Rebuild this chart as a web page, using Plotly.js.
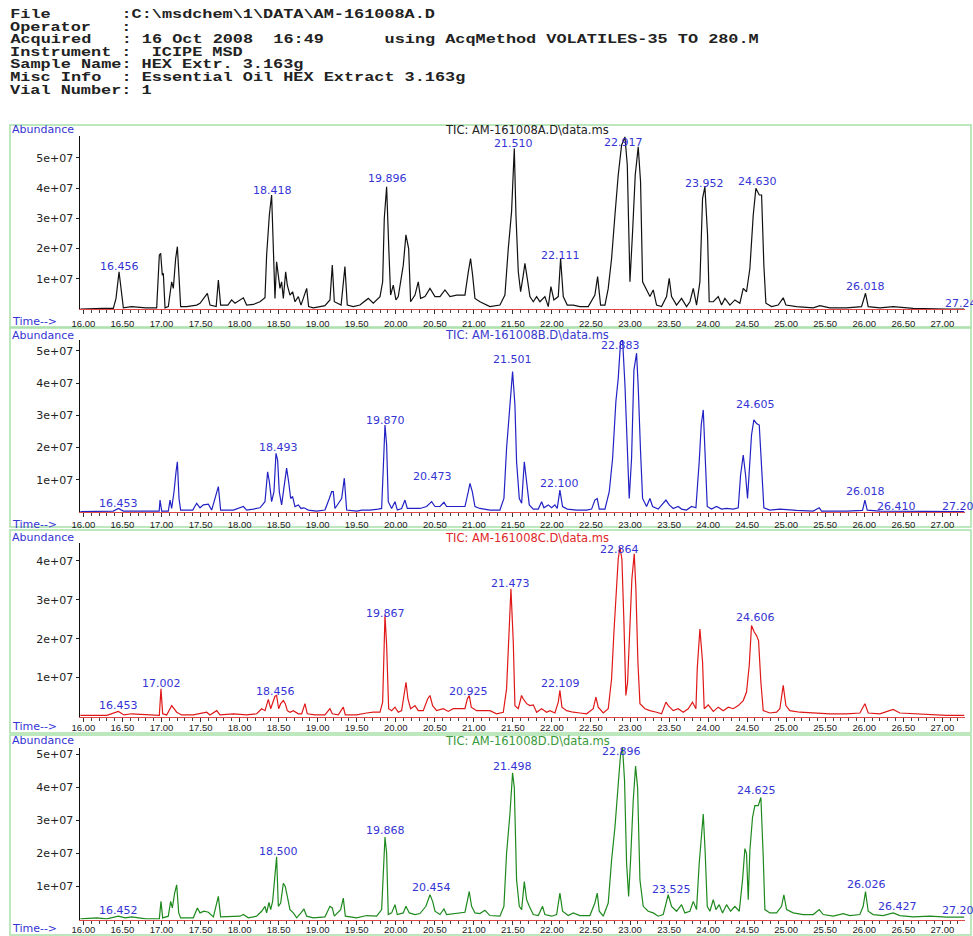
<!DOCTYPE html>
<html><head><meta charset="utf-8">
<script src="https://cdn.plot.ly/plotly-3.0.1.min.js"></script>
<style>html,body{margin:0;padding:0;background:#fff;}#chart{width:973px;height:936px;}</style>
</head><body><div id="chart"></div>
<script>
// ---------- Data (retention time in min, abundance in units of 1e7) ----------
const tA = [15.961,16.10,16.25,16.383,16.417,16.456,16.481,16.511,16.618,16.80,16.938,16.972,16.989,17.01,17.023,17.045,17.087,17.109,17.13,17.151,17.181,17.203,17.224,17.245,17.322,17.45,17.493,17.587,17.621,17.70,17.728,17.757,17.85,17.898,17.941,18.048,18.09,18.176,18.261,18.325,18.346,18.381,18.41,18.432,18.453,18.474,18.496,18.517,18.538,18.56,18.59,18.611,18.645,18.679,18.709,18.752,18.786,18.824,18.859,18.884,18.944,19.029,19.093,19.157,19.187,19.213,19.30,19.349,19.379,19.456,19.541,19.648,19.712,19.798,19.832,19.853,19.883,19.909,19.934,19.968,20.002,20.032,20.096,20.13,20.165,20.19,20.246,20.288,20.318,20.374,20.438,20.502,20.566,20.63,20.694,20.779,20.886,20.929,20.958,20.984,21.014,21.078,21.206,21.334,21.398,21.441,21.483,21.518,21.539,21.569,21.599,21.633,21.654,21.684,21.718,21.761,21.804,21.846,21.91,21.953,21.987,22.025,22.081,22.111,22.145,22.196,22.273,22.358,22.465,22.55,22.585,22.623,22.679,22.721,22.764,22.807,22.849,22.892,22.935,22.965,22.999,23.033,23.067,23.105,23.135,23.161,23.204,23.255,23.297,23.34,23.404,23.468,23.502,23.532,23.596,23.66,23.724,23.767,23.81,23.852,23.895,23.929,23.959,23.993,24.014,24.066,24.13,24.172,24.215,24.279,24.343,24.407,24.45,24.492,24.535,24.578,24.612,24.655,24.685,24.714,24.74,24.813,24.898,24.962,24.996,25.133,25.346,25.431,25.559,25.773,25.965,26.016,26.05,26.2,26.37,26.626,27.053,27.28];
const yA = [0.0,0.02,0.02,0.02,0.35,1.23,0.68,0.04,0.08,0.04,0.04,1.78,1.84,1.12,1.18,0.04,0.08,0.57,0.90,0.68,1.67,2.06,0.90,0.08,0.08,0.13,0.19,0.52,0.13,0.08,0.96,0.13,0.13,0.30,0.19,0.37,0.13,0.15,0.24,0.37,1.78,3.11,3.77,1.78,0.35,1.56,1.12,0.68,0.90,0.35,1.23,0.79,0.46,0.57,0.24,0.41,0.13,0.41,0.68,0.08,0.04,0.08,0.11,0.30,1.45,0.24,0.13,1.40,0.13,0.08,0.13,0.35,0.19,0.41,0.90,3.0,4.04,2.12,0.46,0.79,0.30,0.41,1.45,2.45,2.0,0.24,0.46,0.90,0.35,0.41,0.68,0.41,0.41,0.63,0.41,0.46,0.46,1.23,1.67,1.12,0.35,0.24,0.08,0.13,0.46,2.0,3.22,5.31,3.11,1.23,0.57,1.12,1.51,1.01,0.41,0.24,0.41,0.24,0.41,0.08,0.74,0.30,0.41,1.67,0.41,0.13,0.13,0.08,0.08,0.46,1.07,0.13,0.13,0.68,1.67,3.11,4.43,5.42,5.69,4.76,0.90,2.56,4.43,5.36,4.21,0.90,0.68,0.41,0.63,0.13,0.08,0.41,1.01,0.41,0.13,0.35,0.08,0.24,0.68,0.13,0.90,3.66,4.04,2.45,0.24,0.24,0.41,0.13,0.35,0.13,0.30,0.19,0.68,0.57,1.34,3.11,3.99,3.77,3.77,1.45,0.19,0.08,0.13,0.37,0.13,0.08,0.04,0.11,0.04,0.04,0.08,0.52,0.08,0.04,0.08,0.02,0.0,0.0];

const tB = [15.961,16.25,16.383,16.447,16.511,16.80,16.97,16.981,17.002,17.087,17.109,17.13,17.16,17.186,17.203,17.224,17.245,17.40,17.45,17.493,17.536,17.60,17.642,17.728,17.757,17.834,17.92,18.048,18.09,18.176,18.261,18.325,18.359,18.381,18.41,18.44,18.466,18.487,18.508,18.538,18.568,18.602,18.628,18.654,18.679,18.709,18.752,18.786,18.824,18.88,18.987,19.093,19.149,19.179,19.20,19.221,19.307,19.341,19.371,19.50,19.563,19.67,19.776,19.819,19.84,19.862,19.883,19.904,19.947,19.99,20.02,20.075,20.118,20.148,20.224,20.31,20.395,20.459,20.502,20.566,20.617,20.651,20.779,20.886,20.929,20.95,20.98,21.014,21.078,21.206,21.334,21.385,21.419,21.462,21.496,21.526,21.547,21.582,21.612,21.646,21.676,21.71,21.761,21.825,21.868,21.897,21.953,21.996,22.038,22.068,22.102,22.136,22.196,22.316,22.444,22.508,22.55,22.58,22.606,22.679,22.734,22.777,22.819,22.849,22.879,22.905,22.935,22.964,22.99,23.02,23.05,23.084,23.105,23.135,23.161,23.212,23.255,23.289,23.361,23.46,23.502,23.553,23.617,23.66,23.724,23.788,23.844,23.886,23.912,23.938,23.963,23.989,24.044,24.108,24.172,24.236,24.322,24.386,24.416,24.45,24.48,24.505,24.527,24.556,24.586,24.62,24.655,24.684,24.714,24.791,24.919,25.133,25.346,25.423,25.453,25.773,25.978,26.008,26.038,26.2,26.626,27.053,27.28];
const yB = [0.01,0.01,0.03,0.11,0.03,0.03,0.03,0.37,0.03,0.03,0.37,0.11,0.63,1.25,1.56,0.42,0.06,0.06,0.27,0.13,0.22,0.24,0.06,0.79,0.06,0.06,0.06,0.17,0.06,0.09,0.13,0.32,1.25,0.94,0.32,0.63,1.82,1.61,0.63,0.22,0.73,1.36,0.94,0.42,0.48,0.17,0.22,0.11,0.13,0.06,0.03,0.06,0.42,0.63,0.63,0.11,0.42,1.05,0.06,0.03,0.06,0.06,0.09,0.11,1.36,2.70,2.08,0.32,0.11,0.32,0.06,0.11,0.37,0.11,0.11,0.11,0.17,0.32,0.17,0.17,0.30,0.17,0.17,0.17,0.63,0.89,0.63,0.17,0.11,0.06,0.06,0.42,1.98,3.43,4.36,3.32,1.56,0.42,0.27,1.56,0.84,0.22,0.09,0.09,0.32,0.13,0.22,0.13,0.22,0.11,0.68,0.17,0.09,0.06,0.06,0.09,0.37,0.42,0.09,0.09,0.63,1.67,3.43,4.15,5.29,5.34,3.94,1.87,0.42,1.67,4.41,4.93,3.89,1.87,0.42,0.17,0.42,0.17,0.09,0.37,0.22,0.11,0.17,0.09,0.06,0.17,0.13,1.56,2.70,3.17,1.67,0.17,0.09,0.17,0.09,0.11,0.09,0.13,1.15,1.77,1.15,0.42,1.25,2.39,2.86,2.75,2.70,1.36,0.13,0.06,0.09,0.05,0.03,0.13,0.03,0.03,0.05,0.37,0.06,0.03,0.03,0.01,0.01];

const tC = [15.961,16.3,16.447,16.52,16.618,16.80,16.972,16.993,17.015,17.066,17.13,17.16,17.194,17.258,17.407,17.578,17.621,17.706,17.749,17.92,18.09,18.219,18.283,18.325,18.368,18.398,18.423,18.453,18.474,18.5,18.526,18.56,18.585,18.611,18.645,18.688,18.752,18.795,18.837,18.867,18.965,19.093,19.157,19.187,19.264,19.328,19.354,19.499,19.627,19.712,19.798,19.832,19.862,19.883,19.909,19.947,19.99,20.032,20.075,20.105,20.131,20.156,20.19,20.246,20.288,20.352,20.408,20.438,20.472,20.523,20.608,20.672,20.736,20.822,20.886,20.916,20.941,20.967,21.035,21.078,21.206,21.291,21.377,21.419,21.441,21.475,21.505,21.526,21.569,21.611,21.633,21.676,21.718,21.761,21.804,21.868,21.932,21.974,22.038,22.081,22.102,22.128,22.188,22.273,22.358,22.444,22.529,22.563,22.593,22.657,22.721,22.764,22.794,22.819,22.849,22.871,22.896,22.922,22.947,22.969,22.999,23.024,23.054,23.075,23.101,23.127,23.191,23.255,23.34,23.404,23.46,23.49,23.553,23.617,23.681,23.745,23.8,23.844,23.861,23.895,23.929,23.95,24.002,24.066,24.13,24.194,24.258,24.322,24.386,24.45,24.492,24.527,24.556,24.591,24.62,24.646,24.676,24.706,24.791,24.877,24.919,24.962,24.996,25.047,25.175,25.346,25.559,25.773,25.944,26.008,26.05,26.2,26.37,26.456,26.626,26.84,27.053,27.28];
const yC = [0.03,0.03,0.13,0.04,0.07,0.04,0.03,0.71,0.07,0.04,0.28,0.20,0.11,0.04,0.04,0.11,0.04,0.15,0.04,0.07,0.04,0.07,0.20,0.15,0.44,0.20,0.37,0.52,0.54,0.20,0.33,0.41,0.33,0.15,0.11,0.15,0.07,0.07,0.33,0.07,0.04,0.04,0.20,0.07,0.04,0.24,0.04,0.04,0.09,0.11,0.11,0.37,2.60,1.83,0.20,0.15,0.24,0.11,0.15,0.54,0.88,0.45,0.20,0.28,0.15,0.15,0.45,0.54,0.28,0.15,0.20,0.13,0.20,0.20,0.20,0.45,0.54,0.24,0.15,0.15,0.15,0.07,0.11,0.71,1.91,3.28,1.91,0.28,0.20,0.54,0.45,0.33,0.28,0.30,0.11,0.20,0.11,0.15,0.09,0.37,0.67,0.24,0.15,0.11,0.09,0.07,0.20,0.50,0.24,0.09,0.20,0.97,2.17,3.02,4.05,4.35,4.05,2.42,0.54,0.88,2.51,3.54,4.18,3.28,1.40,0.33,0.20,0.15,0.11,0.07,0.37,0.28,0.15,0.20,0.11,0.20,0.37,0.20,1.23,2.25,1.40,0.20,0.30,0.13,0.24,0.15,0.24,0.20,0.28,0.41,0.63,1.31,2.34,2.17,2.08,1.95,0.88,0.15,0.09,0.11,0.20,0.80,0.28,0.15,0.11,0.09,0.07,0.07,0.09,0.33,0.09,0.07,0.18,0.09,0.07,0.04,0.03,0.03];

const tD = [15.961,16.17,16.30,16.447,16.533,16.618,16.80,16.972,16.993,17.015,17.087,17.117,17.139,17.168,17.194,17.22,17.245,17.407,17.459,17.493,17.544,17.6,17.664,17.728,17.757,17.877,18.005,18.048,18.112,18.218,18.282,18.325,18.346,18.376,18.398,18.423,18.453,18.474,18.496,18.526,18.56,18.585,18.611,18.645,18.688,18.731,18.786,18.824,18.859,18.944,19.093,19.157,19.187,19.213,19.294,19.328,19.354,19.499,19.627,19.755,19.819,19.84,19.862,19.883,19.904,19.947,19.99,20.02,20.096,20.13,20.173,20.246,20.31,20.386,20.438,20.472,20.502,20.566,20.617,20.651,20.737,20.822,20.886,20.92,20.941,20.971,21.014,21.078,21.142,21.206,21.334,21.385,21.419,21.462,21.496,21.518,21.547,21.582,21.612,21.646,21.676,21.71,21.761,21.825,21.88,21.91,21.996,22.06,22.102,22.136,22.209,22.273,22.358,22.486,22.55,22.58,22.606,22.657,22.721,22.764,22.807,22.849,22.879,22.905,22.93,22.956,22.982,23.007,23.041,23.071,23.097,23.127,23.169,23.233,23.297,23.361,23.425,23.489,23.532,23.596,23.66,23.703,23.767,23.81,23.852,23.886,23.912,23.938,23.963,23.989,24.023,24.066,24.1,24.142,24.185,24.236,24.288,24.343,24.399,24.441,24.471,24.492,24.514,24.535,24.569,24.599,24.642,24.676,24.706,24.727,24.791,24.877,24.941,24.97,25.005,25.09,25.218,25.346,25.423,25.474,25.602,25.73,25.815,25.944,25.986,26.016,26.05,26.114,26.242,26.37,26.456,26.626,26.84,27.053,27.28];
const yD = [0.02,0.05,0.02,0.10,0.05,0.08,0.02,0.02,0.55,0.05,0.10,0.55,0.35,0.80,1.05,0.20,0.05,0.05,0.35,0.20,0.25,0.22,0.08,0.70,0.08,0.10,0.10,0.15,0.05,0.10,0.25,0.40,0.20,0.52,0.30,0.55,1.50,1.90,0.40,0.50,1.10,1.00,0.70,0.30,0.20,0.05,0.20,0.32,0.10,0.05,0.08,0.40,0.35,0.10,0.30,0.65,0.10,0.05,0.12,0.10,0.30,1.20,2.50,2.00,0.15,0.20,0.45,0.15,0.20,0.40,0.20,0.15,0.18,0.40,0.75,0.55,0.25,0.15,0.32,0.15,0.18,0.22,0.22,0.60,0.85,0.40,0.20,0.18,0.28,0.12,0.10,0.40,2.00,3.20,4.45,4.00,1.20,0.40,0.30,1.15,0.60,0.40,0.15,0.12,0.40,0.15,0.10,0.15,0.80,0.25,0.12,0.20,0.12,0.12,0.50,0.80,0.25,0.10,0.50,1.80,2.80,4.10,5.00,5.20,4.20,1.70,0.70,1.80,3.60,4.65,4.00,1.20,0.40,0.25,0.20,0.10,0.15,0.75,0.40,0.25,0.45,0.20,0.25,0.55,0.30,1.70,2.60,3.20,2.00,0.40,0.25,0.60,0.30,0.45,0.20,0.45,0.25,0.40,0.25,1.20,2.15,2.00,0.60,2.10,3.10,3.45,3.45,3.70,1.90,0.30,0.20,0.20,0.40,0.75,0.30,0.20,0.15,0.15,0.30,0.15,0.10,0.18,0.12,0.15,0.40,0.85,0.25,0.15,0.12,0.20,0.12,0.08,0.10,0.07,0.07];

// Peak labels (retention time text) and the abundance at which each label sits
const labelsA = ['16.456','18.418','19.896','21.510','22.917','22.111','23.952','24.630','26.018','27.24'];
const labelYA = [1.40,3.93,4.30,5.48,5.52,1.78,4.15,4.21,0.74,0.17];
const labelsB = ['16.453','18.493','19.870','20.473','21.501','22.883','22.100','24.605','26.018','26.410','27.20'];
const labelYB = [0.25,2.01,2.83,1.10,4.72,5.16,0.89,3.34,0.63,0.16,0.16];
const labelsC = ['16.453','17.002','18.456','19.867','20.925','21.473','22.864','22.109','24.606'];
const labelYC = [0.29,0.85,0.64,2.66,0.64,3.43,4.29,0.86,2.54];
const labelsD = ['16.452','18.500','19.868','20.454','21.498','22.896','23.525','24.625','26.026','26.427','27.20'];
const labelYD = [0.28,2.07,2.70,0.97,4.65,5.08,0.90,3.90,1.05,0.40,0.28];

// Tick labels
const xTickVals = [16,16.5,17,17.5,18,18.5,19,19.5,20,20.5,21,21.5,22,22.5,23,23.5,24,24.5,25,25.5,26,26.5,27];
const xTickText = ['16.00','16.50','17.00','17.50','18.00','18.50','19.00','19.50','20.00','20.50','21.00','21.50','22.00','22.50','23.00','23.50','24.00','24.50','25.00','25.50','26.00','26.50','27.00'];
const yTickVals = [1,2,3,4,5];
const yTickText = ['1e+07','2e+07','3e+07','4e+07','5e+07'];

const panelTitles = ['TIC: AM-161008A.D\\data.ms','TIC: AM-161008B.D\\data.ms','TIC: AM-161008C.D\\data.ms','TIC: AM-161008D.D\\data.ms'];
const headerLines = [
  'File       :C:\\msdchem\\1\\DATA\\AM-161008A.D',
  'Operator   :',
  'Acquired   : 16 Oct 2008  16:49      using AcqMethod VOLATILES-35 TO 280.M',
  'Instrument :  ICIPE MSD',
  'Sample Name: HEX Extr. 3.163g',
  'Misc Info  : Essential Oil HEX Extract 3.163g',
  'Vial Number: 1'
];

// ---------- Layout helpers ----------
const W = 973, H = 936;
const px = v => v / W;
const py = v => 1 - v / H;
const BLUE = '#3434d4';

const panels = [
  {t:tA, y:yA, color:'#111111', tcolor:'#222222', top:136, base:309, max:5.72, labels:labelsA, ly:labelYA, absY:130, timeY:321.5, box:[125,327], standoff:1},
  {t:tB, y:yB, color:'#2222c4', tcolor:'#3a3acc', top:340, base:512, max:5.34, labels:labelsB, ly:labelYB, absY:335, timeY:524, box:[328,527], standoff:-1},
  {t:tC, y:yC, color:'#e01818', tcolor:'#e02828', top:543, base:716.5, max:4.46, labels:labelsC, ly:labelYC, absY:537.5, timeY:726.5, box:[530,733], standoff:-2},
  {t:tD, y:yD, color:'#1e8a1e', tcolor:'#3a9a3a', top:748, base:919.5, max:5.2, labels:labelsD, ly:labelYD, absY:740.5, timeY:928.5, box:[735,935], standoff:-3}
];

const data = [];
const layout = {
  width: W, height: H, margin: {l:0, r:0, t:0, b:0},
  paper_bgcolor: '#ffffff', plot_bgcolor: '#ffffff',
  showlegend: false, annotations: [], shapes: []
};

const sansFont = 'DejaVu Sans, Verdana, sans-serif';

panels.forEach((p, i) => {
  const s = i === 0 ? '' : String(i + 1);
  data.push({
    x: p.t, y: p.y, xaxis: 'x' + s, yaxis: 'y' + s,
    type: 'scatter', mode: 'lines',
    line: {color: p.color, width: 1.2}, hoverinfo: 'skip'
  });
  layout['xaxis' + s] = {
    domain: [px(80), px(965)], range: [15.956, 27.29], anchor: 'y' + s,
    tickmode: 'array', tickvals: xTickVals, ticktext: xTickText,
    ticks: 'outside', ticklen: 4, tickwidth: 1, tickcolor: '#333',
    ticklabelstandoff: p.standoff,
    showline: true, linecolor: '#e04848', linewidth: 1.2,
    showgrid: false, zeroline: false, fixedrange: true,
    tickfont: {family: 'Liberation Sans, Arial, sans-serif', size: 9.5, color: '#222'},
    minor: {tickmode: 'linear', tick0: 16, dtick: 0.1, ticks: 'outside', ticklen: 3, tickcolor: '#444', showgrid: false}
  };
  layout['yaxis' + s] = {
    domain: [py(p.base), py(p.top)], range: [0, p.max], anchor: 'x' + s,
    tickmode: 'array', tickvals: yTickVals, ticktext: yTickText,
    ticks: 'outside', ticklen: 3, tickcolor: '#222',
    showline: true, linecolor: '#111', linewidth: 1.5,
    showgrid: false, zeroline: false, fixedrange: true,
    tickfont: {family: sansFont, size: 11, color: '#222'}
  };
  // frame
  layout.shapes.push({type:'rect', xref:'paper', yref:'paper',
    x0: px(10), x1: px(971), y0: py(p.box[1]), y1: py(p.box[0]),
    line: {color:'#a8e0a8', width:1.5}, fillcolor:'rgba(0,0,0,0)', layer:'below'});
  // Abundance
  layout.annotations.push({xref:'paper', yref:'paper', x:px(11), y:py(p.absY),
    xanchor:'left', yanchor:'middle', showarrow:false, text:'Abundance', borderpad:0,
    font:{family:sansFont, size:11, color:BLUE}});
  // Time-->
  layout.annotations.push({xref:'paper', yref:'paper', x:px(11), y:py(p.timeY),
    xanchor:'left', yanchor:'middle', showarrow:false, text:'Time-->', borderpad:0,
    font:{family:sansFont, size:11, color:BLUE}});
  // panel title
  layout.annotations.push({xref:'paper', yref:'paper', x:px(527), y:py(p.absY),
    xanchor:'center', yanchor:'middle', showarrow:false, text:panelTitles[i], borderpad:0,
    font:{family:sansFont, size:11.5, color:p.tcolor}});
  // peak labels
  p.labels.forEach((lab, k) => {
    layout.annotations.push({xref:'x' + s, yref:'y' + s, x:Number(lab), y:p.ly[k],
      xanchor:'center', yanchor:'middle', showarrow:false, text:lab, borderpad:0,
      font:{family:sansFont, size:11, color:BLUE}});
  });
});

// header block
const headerIdx = [];
headerLines.forEach((line, k) => {
  headerIdx.push(layout.annotations.length);
  layout.annotations.push({xref:'paper', yref:'paper', x:px(9), y:py(15 + k * 12.6),
    xanchor:'left', yanchor:'middle', showarrow:false, borderpad:0,
    text: line.replace(/ /g, '\u00a0'),
    font:{family:'Liberation Mono, Courier New, monospace', size:12.5, color:'#222', weight:'bold'}});
});

Plotly.newPlot('chart', data, layout, {staticPlot:true, displayModeBar:false}).then(gd => {
  headerIdx.forEach(i => {
    const t = gd.querySelector('.annotation[data-index="' + i + '"] text');
    if (t) {
      t.style.transformBox = 'fill-box';
      t.style.transformOrigin = '0% 50%';
      t.style.transform = 'scaleX(1.35)';
    }
  });
});
</script>
</body></html>
